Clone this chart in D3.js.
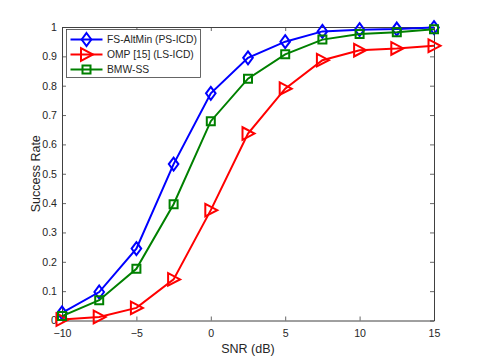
<!DOCTYPE html>
<html>
<head>
<meta charset="utf-8">
<script src="https://cdn.jsdelivr.net/npm/d3@7"></script>
<style>
  body { margin: 0; background: #fff; }
  text { font-family: "Liberation Sans", Arial, Helvetica, sans-serif; fill: #262626; }
</style>
</head>
<body>
<svg id="chart" width="480" height="360"></svg>
<script>
// SNR values (dB) on the x axis
const snr = [-10, -7.5, -5, -2.5, 0, 2.5, 5, 7.5, 10, 12.5, 15];

// success rate per method
const fsAltMin = [0.026, 0.097, 0.245, 0.533, 0.774, 0.895, 0.95, 0.985, 0.991, 0.993, 0.998];
const omp = [0.003, 0.012, 0.043, 0.14, 0.376, 0.637, 0.79, 0.887, 0.921, 0.927, 0.936];
const bmwSS = [0.015, 0.069, 0.176, 0.396, 0.679, 0.824, 0.907, 0.957, 0.976, 0.982, 0.992];

const xTicks = [-10, -5, 0, 5, 10, 15];
const yTicks = [0, 0.1, 0.2, 0.3, 0.4, 0.5, 0.6, 0.7, 0.8, 0.9, 1];

const series = [
  { name: "FS-AltMin (PS-ICD)", values: fsAltMin, color: "#0000ff", marker: "diamond" },
  { name: "OMP [15] (LS-ICD)", values: omp, color: "#ff0000", marker: "triangle" },
  { name: "BMW-SS", values: bmwSS, color: "#008000", marker: "square" },
];

const plot = { left: 62, right: 434, top: 27, bottom: 320.5 };
const axisColor = "#404040";

const svg = d3.select("#chart");

const x = d3.scaleLinear().domain([-10, 15]).range([plot.left, plot.right]);
const y = d3.scaleLinear().domain([0, 1]).range([plot.bottom, plot.top]);

// marker path generators (MATLAB-like shapes)
function markerPath(type) {
  if (type === "diamond") return "M0,-6.5L4.8,0L0,6.5L-4.8,0Z";
  if (type === "triangle") return "M-5.5,-6.3L6.5,0L-5.5,6.3Z";
  return "M-4,-4L4,-4L4,4L-4,4Z";
}

// axes box with inward ticks on all four sides
const axes = svg.append("g").attr("class", "axes");

const bottomAxis = d3.axisBottom(x).tickValues(xTicks).tickSizeInner(-4).tickSizeOuter(0).tickPadding(9);
const topAxis = d3.axisTop(x).tickValues(xTicks).tickSizeInner(-4).tickSizeOuter(0).tickFormat("");
const leftAxis = d3.axisLeft(y).tickValues(yTicks).tickSizeInner(-4).tickSizeOuter(0).tickPadding(5)
  .tickFormat((d) => (d === 0 ? "0" : d === 1 ? "1" : d3.format(".1f")(d)));
const rightAxis = d3.axisRight(y).tickValues(yTicks).tickSizeInner(-4).tickSizeOuter(0).tickFormat("");

axes.append("g").attr("transform", `translate(0,${plot.bottom})`).call(bottomAxis);
axes.append("g").attr("transform", `translate(0,${plot.top})`).call(topAxis);
axes.append("g").attr("transform", `translate(${plot.left},0)`).call(leftAxis);
axes.append("g").attr("transform", `translate(${plot.right},0)`).call(rightAxis);

axes.selectAll(".domain").attr("stroke", axisColor).attr("stroke-width", 1);
axes.selectAll(".tick line").attr("stroke", axisColor).attr("stroke-width", 0.8);
axes.selectAll(".tick text")
  .style("font-family", "Liberation Sans, Arial, sans-serif")
  .style("font-size", "10.6px")
  .attr("fill", "#333");

// axis labels
svg.append("text")
  .attr("x", (plot.left + plot.right) / 2)
  .attr("y", 353)
  .attr("text-anchor", "middle")
  .style("font-size", "12.5px")
  .text("SNR (dB)");

svg.append("text")
  .attr("transform", `translate(40,${(plot.top + plot.bottom) / 2}) rotate(-90)`)
  .attr("text-anchor", "middle")
  .style("font-size", "12.5px")
  .text("Success Rate");

// lines and markers
const line = d3.line().x((d, i) => x(snr[i])).y((d) => y(d));

const seriesG = svg.selectAll(".series")
  .data(series)
  .join("g")
  .attr("class", "series");

seriesG.append("path")
  .attr("d", (s) => line(s.values))
  .attr("fill", "none")
  .attr("stroke", (s) => s.color)
  .attr("stroke-width", 2);

seriesG.each(function (s) {
  d3.select(this)
    .selectAll("path.marker")
    .data(s.values)
    .join("path")
    .attr("class", "marker")
    .attr("transform", (d, i) => `translate(${x(snr[i])},${y(d)})`)
    .attr("d", markerPath(s.marker))
    .attr("fill", "none")
    .attr("stroke", s.color)
    .attr("stroke-width", 2);
});

// legend
const legend = svg.append("g").attr("class", "legend");
legend.append("rect")
  .attr("x", 66.5)
  .attr("y", 29.5)
  .attr("width", 134)
  .attr("height", 48)
  .attr("fill", "#fff")
  .attr("stroke", axisColor)
  .attr("stroke-width", 0.8);

const legendRows = legend.selectAll(".row")
  .data(series)
  .join("g")
  .attr("class", "row")
  .attr("transform", (d, i) => `translate(0,${39.5 + i * 15})`);

legendRows.append("line")
  .attr("x1", 70.5)
  .attr("x2", 102.5)
  .attr("stroke", (d) => d.color)
  .attr("stroke-width", 2);

legendRows.append("path")
  .attr("transform", "translate(86.5,0)")
  .attr("d", (d) => markerPath(d.marker))
  .attr("fill", "none")
  .attr("stroke", (d) => d.color)
  .attr("stroke-width", 2);

legendRows.append("text")
  .attr("x", 107)
  .attr("dy", "0.35em")
  .style("font-size", "10.3px")
  .text((d) => d.name);
</script>
</body>
</html>
